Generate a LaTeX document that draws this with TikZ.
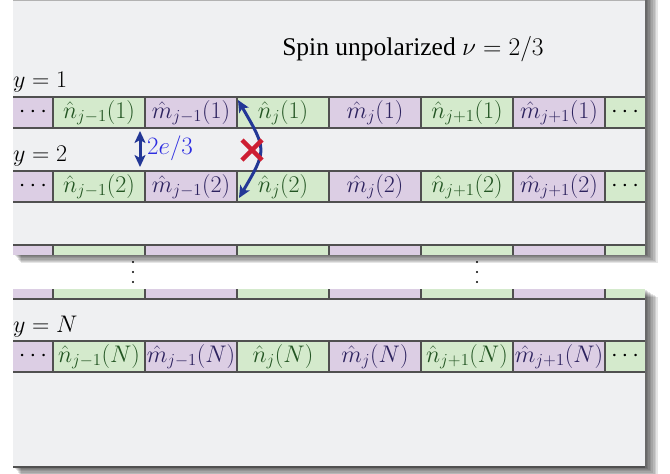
\RequirePackage{fix-cm}
\documentclass[tikz,border=0pt]{standalone}
\usepackage{fontspec}
\usetikzlibrary{arrows.meta,calc}
\newfontfamily\timesfont{Liberation Serif}
\definecolor{panelbg}{RGB}{239,240,242}
\definecolor{cellP}{RGB}{220,206,228}
\definecolor{cellG}{RGB}{212,234,204}
\definecolor{txtG}{RGB}{35,85,35}
\definecolor{txtP}{RGB}{45,35,95}
\definecolor{gridline}{RGB}{80,80,80}
\definecolor{arrowblue}{RGB}{35,55,150}
\definecolor{labelblue}{RGB}{45,45,225}
\definecolor{crossred}{RGB}{205,30,50}
\tikzset{
  bigfont/.style={font=\fontsize{24}{28}\selectfont},
  cellbox/.style={minimum width=92pt, minimum height=31pt, inner sep=0pt, outer sep=0pt, bigfont},
  pcell/.style={cellbox, fill=cellP, text=txtP},
  gcell/.style={cellbox, fill=cellG, text=txtG},
  endcell/.style={minimum width=40pt, text=black},
  grid/.style={draw=gridline, line width=1.5pt},
  ylabel/.style={anchor=base west, inner sep=0pt, bigfont},
  bluearrow/.style={draw=arrowblue, line width=3pt, {Stealth[length=12pt,width=11pt,inset=3pt]}-{Stealth[length=12pt,width=11pt,inset=3pt]}},
  redcross/.style={draw=crossred, line width=4.5pt},
  shadowlayer/.style={fill=black, opacity=0.1}
}
% #1 prefix, #2 top y, #3 row index
\newcommand\gridrow[3]{%
  \node[pcell,endcell] (#1-0) at (33,{#2+15.5}) {$\cdots$};
  \node[gcell] (#1-1) at (99,{#2+15.5}) {$\hat n_{j-1}(#3)$};
  \node[pcell] (#1-2) at (191,{#2+15.5}) {$\hat m_{j-1}(#3)$};
  \node[gcell] (#1-3) at (283,{#2+15.5}) {$\hat n_{j}(#3)$};
  \node[pcell] (#1-4) at (375,{#2+15.5}) {$\hat m_{j}(#3)$};
  \node[gcell] (#1-5) at (467,{#2+15.5}) {$\hat n_{j+1}(#3)$};
  \node[pcell] (#1-6) at (559,{#2+15.5}) {$\hat m_{j+1}(#3)$};
  \node[gcell,endcell] (#1-7) at (625,{#2+15.5}) {$\cdots$};
  \draw[grid] (#1-0.north west) -- (#1-7.north east);
  \draw[grid] (#1-0.south west) -- (#1-7.south east);
  \foreach \k in {1,...,7}{\draw[grid] (#1-\k.north west) -- (#1-\k.south west);}
}
% row cut by a panel edge: cells only, no text
\newcommand\blankrow[2]{%
  \node[pcell,endcell] (#1-0) at (33,{#2+15.5}) {};
  \node[gcell] (#1-1) at (99,{#2+15.5}) {};
  \node[pcell] (#1-2) at (191,{#2+15.5}) {};
  \node[gcell] (#1-3) at (283,{#2+15.5}) {};
  \node[pcell] (#1-4) at (375,{#2+15.5}) {};
  \node[gcell] (#1-5) at (467,{#2+15.5}) {};
  \node[pcell] (#1-6) at (559,{#2+15.5}) {};
  \node[gcell,endcell] (#1-7) at (625,{#2+15.5}) {};
  \draw[grid] (#1-0.north west) -- (#1-7.north east);
  \draw[grid] (#1-0.south west) -- (#1-7.south east);
  \foreach \k in {1,...,7}{\draw[grid] (#1-\k.north west) -- (#1-\k.south west);}
}
\begin{document}
\begin{tikzpicture}[x=1pt,y=-1pt]
\useasboundingbox (0,0) rectangle (670,474);
\fill[white] (0,0) rectangle (670,474);
% ---------- top panel ----------
\foreach \k in {1,...,8}{\fill[shadowlayer] ({13+\k},-2) rectangle ({645+1.6*\k},{254+1.1*\k});}
\fill[panelbg] (13,-2) rectangle (645,254);
\draw[gray!60, line width=1pt] (13,0.5) -- (645,0.5);
\begin{scope}
  \clip (13,-2) rectangle (645,254);
  \gridrow{ra}{97}{1}
  \gridrow{rb}{171}{2}
  \blankrow{rc}{245}
\end{scope}
\node[anchor=base, inner sep=0pt, font=\fontsize{25.5}{30}\selectfont] (title) at (413,55) {\timesfont Spin unpolarized $\nu=2/3$};
\node[ylabel] (y1) at (13,87) {$y=1$};
\node[ylabel] (y2) at (13,161) {$y=2$};
% coupling arrows
\coordinate (qa) at ([xshift=-5pt,yshift=-3pt]ra-1.south east);
\coordinate (qb) at ([xshift=-5pt,yshift=4pt]rb-1.north east);
\draw[bluearrow] (qa) -- (qb);
\node[anchor=west, inner sep=0pt, font=\fontsize{25}{30}\selectfont, text=labelblue] (charge) at (147,148) {$2e/3$};
\coordinate (pa) at ([xshift=1pt,yshift=-3pt]ra-3.north west);
\coordinate (pb) at ([xshift=2pt,yshift=4pt]rb-3.south west);
\draw[bluearrow] (pa) .. controls (267,150) .. (pb);
\coordinate (cross) at (252,150);
\draw[redcross] ($(cross)+(-10,-10)$) -- ($(cross)+(10,10)$);
\draw[redcross] ($(cross)+(-10,10)$) -- ($(cross)+(10,-10)$);
% vertical dots
\foreach \yy in {262,272,282}{
  \fill (133,\yy) circle (1.2);
  \fill (477,\yy) circle (1.2);
}
% ---------- bottom panel ----------
\foreach \k in {1,...,8}{\fill[shadowlayer] ({13+\k},{289+\k}) rectangle ({645+1.6*\k},{467+1.1*\k});}
\fill[panelbg] (13,289) rectangle (645,467);
\begin{scope}
  \clip (13,289) rectangle (645,467);
  \blankrow{rm}{268}
  \gridrow{rn}{341}{N}
\end{scope}
\draw[gridline, line width=1.2pt] (13,467) -- (645,467);
\node[ylabel] (yN) at (13,332) {$y=N$};
\end{tikzpicture}
\end{document}
